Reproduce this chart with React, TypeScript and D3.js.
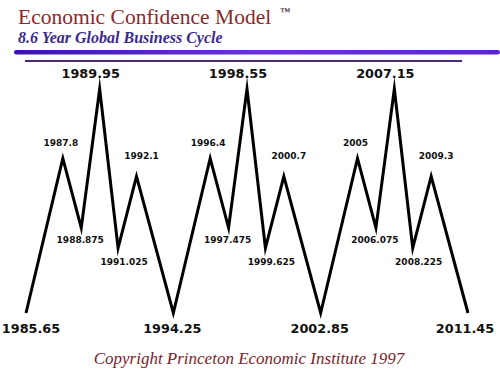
import React from "react";
import * as d3 from "d3";

const years = [1985.65, 1987.8, 1988.875, 1989.95, 1991.025, 1992.1, 1994.25, 1996.4, 1997.475, 1998.55, 1999.625, 2000.7, 2002.85, 2005, 2006.075, 2007.15, 2008.225, 2009.3, 2011.45];
const levels = [0, 69, 38, 100, 29, 61, 0, 69, 38, 100, 29, 61, 0, 69, 38, 100, 29, 61, 0];
const labels = ["1985.65", "1987.8", "1988.875", "1989.95", "1991.025", "1992.1", "1994.25", "1996.4", "1997.475", "1998.55", "1999.625", "2000.7", "2002.85", "2005", "2006.075", "2007.15", "2008.225", "2009.3", "2011.45"];
const kinds = ["low", "high", "midTrough", "top", "lowTrough", "midPeak", "low", "high", "midTrough", "top", "lowTrough", "midPeak", "low", "high", "midTrough", "top", "lowTrough", "midPeak", "low"];

const title = "Economic Confidence Model";
const subtitle = "8.6 Year Global Business Cycle";
const copyright = "Copyright Princeton Economic Institute 1997";

const labelStyle: Record<string, { dx: number; dy: number; size: number }> = {
  top: { dx: -9, dy: -11, size: 12.8 },
  low: { dx: -1, dy: 20, size: 12.8 },
  high: { dx: -2, dy: -12, size: 9 },
  midPeak: { dx: 5, dy: -17, size: 9 },
  midTrough: { dx: -1, dy: 15, size: 9 },
  lowTrough: { dx: 6, dy: 17, size: 9 },
};

export default function App() {
  const W = 500, H = 375;
  const x = d3.scaleLinear().domain([1985.65, 2011.45]).range([26, 468]);
  const y = d3.scaleLinear().domain([0, 100]).range([313, 89]);
  const pts = years.map((yr, i) => [x(yr), y(levels[i])] as [number, number]);
  const path = d3.line()(pts) || "";
  return (
    <svg width={W} height={H} style={{ position: "absolute", left: 0, top: 0, background: "#fff" }}>
      <defs>
        <linearGradient id="bar" x1="0" x2="1" y1="0" y2="0">
          <stop offset="0" stopColor="#3a10c0" />
          <stop offset="0.5" stopColor="#6a2ef0" />
          <stop offset="1" stopColor="#5a22e0" />
        </linearGradient>
      </defs>
      <text x={18} y={24} fontFamily="'Liberation Serif', serif" fontSize={21.5} fill="#8a2a2e">
        {title}
      </text>
      <text x={280} y={15} fontFamily="'Liberation Serif', serif" fontSize={10} fontWeight="bold" fill="#4a3040">™</text>
      <text x={18} y={43} fontFamily="'Liberation Serif', serif" fontStyle="italic" fontWeight="bold" fontSize={16} fill="#3b2a8c">
        {subtitle}
      </text>
      <rect x={14} y={50} width={486} height={4.5} rx={2.2} fill="url(#bar)" />
      <line x1={25} x2={462} y1={61} y2={61} stroke="#4a2a78" strokeWidth={2} />
      <path d={path} fill="none" stroke="#000" strokeWidth={3} strokeLinejoin="miter" strokeMiterlimit={10} />
      {pts.map((p, i) => {
        const s = labelStyle[kinds[i]];
        const lx = Math.max(31, Math.min(W - 35, p[0] + s.dx));
        return (
          <text key={i} x={lx} y={p[1] + s.dy} textAnchor="middle" fontFamily="'DejaVu Sans', sans-serif" fontWeight="bold" fontSize={s.size} fill="#111">
            {labels[i]}
          </text>
        );
      })}
      <text x={249} y={364} textAnchor="middle" fontFamily="'Liberation Serif', serif" fontStyle="italic" fontSize={17} fill="#7a1e2c">
        {copyright}
      </text>
    </svg>
  );
}
